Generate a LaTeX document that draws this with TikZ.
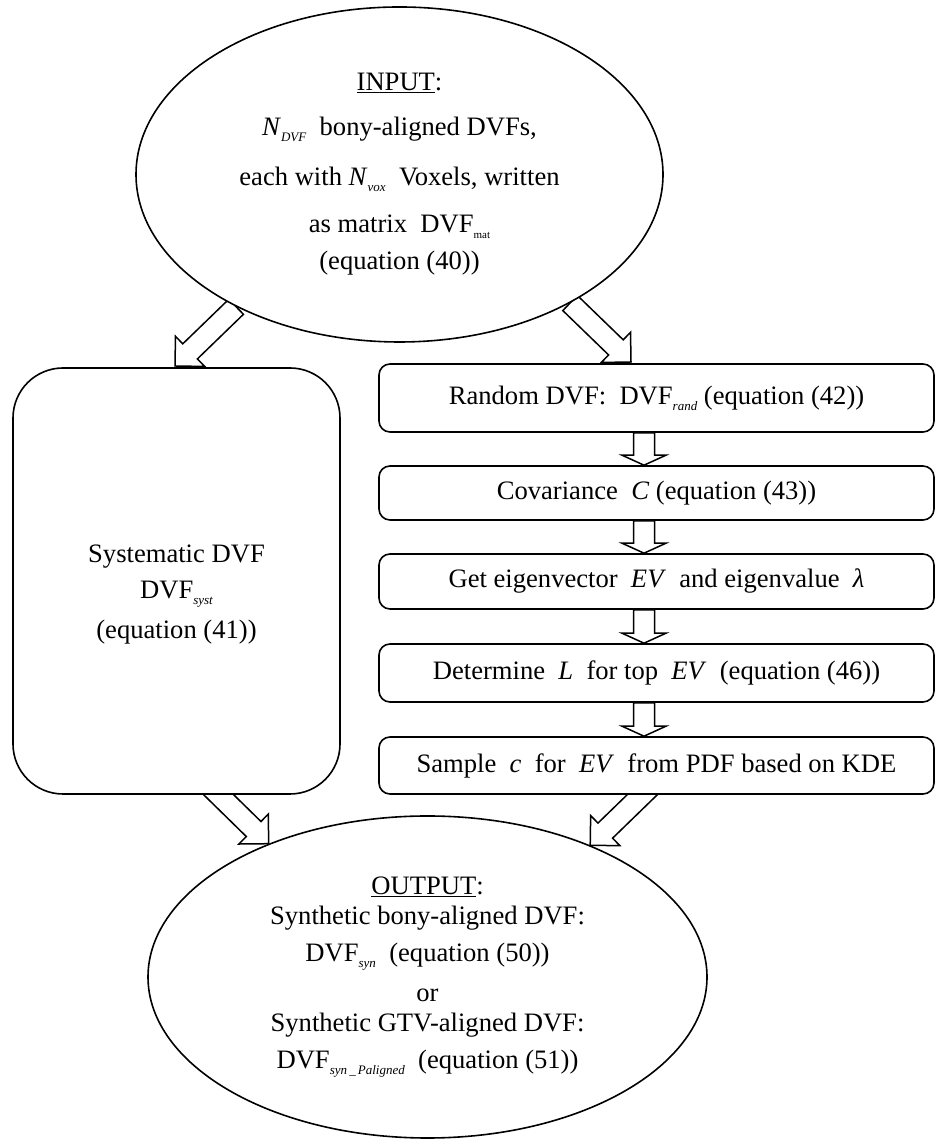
\documentclass[tikz,border=0pt]{standalone}
\usepackage{fontspec}
\setmainfont{Liberation Serif}
\usetikzlibrary{calc,backgrounds,shapes.geometric}
\newcommand{\lowit}[1]{\raisebox{-6pt}{\fontsize{13}{13}\selectfont\itshape #1}}
\newcommand{\lowrm}[1]{\raisebox{-6pt}{\fontsize{11}{11}\selectfont #1}}

\begin{document}
\begin{tikzpicture}
  [x=1pt,y=1pt,line width=1.6pt,font=\fontsize{26.6}{30}\selectfont,
   every node/.style={fill=white,inner sep=0pt,align=center},
   oval/.style={ellipse,draw},
   stepbox/.style={draw,rounded corners=11pt,minimum width=555pt},
   bigbox/.style={draw,rounded corners=50pt,minimum width=327pt,minimum height=426pt},
   blockarrow/.style={draw,fill=white,line width=1.5pt,line join=miter}]
  \useasboundingbox (0,0) rectangle (935,1142);

  \node [oval,minimum width=527pt,minimum height=335pt] (inp) at (399.5,967.5)
    {\underline{INPUT}:\\[15pt]
     \textit{N}\lowit{DVF}\ \ bony-aligned DVFs,\\[20pt]
     each with \textit{N}\lowit{vox}\ \ Voxels, written\\[17pt]
     as matrix\ \ DVF\lowrm{mat}\\[7pt]
     (equation (40))};
  \node [bigbox] (sys) at (176.5,561) {};
  \node (systxt) at (176.5,547) {Systematic DVF\\[6pt] DVF\lowit{syst}\\[10pt] (equation (41))};
  \node [stepbox,minimum height=68pt] (r1) at (656.5,744) {Random DVF:\ \ DVF\lowit{rand} (equation (42))};
  \node [stepbox,minimum height=54pt] (r2) at (656.5,649) {Covariance\ \ \textit{C} (equation (43))};
  \node [stepbox,minimum height=55pt] (r3) at (656.5,560.5) {Get eigenvector\ \ \textit{EV}\ \ and eigenvalue\ \ \textit{λ}};
  \node [stepbox,minimum height=58pt] (r4) at (656.5,469) {Determine\ \ \textit{L}\ \ for top\ \ \textit{EV}\ \ (equation (46))};
  \node [stepbox,minimum height=57pt] (r5) at (656.5,376.5) {Sample\ \ \textit{c}\ \ for\ \ \textit{EV}\ \ from PDF based on KDE};
  \node [oval,minimum width=559pt,minimum height=322pt] (outp) at (427.5,165)
    {\underline{OUTPUT}:\\
     Synthetic bony-aligned DVF:\\[7pt]
     DVF\lowit{syn}\ \ (equation (50))\\[10pt]
     or\\
     Synthetic GTV-aligned DVF:\\[7pt]
     DVF\lowit{syn\,\_\,Paligned}\ \ (equation (51))};

  \coordinate (t1) at (175,776);
  \coordinate (t2) at (631,780);
  \coordinate (b1) at ($(sys.south)+(32,10)$);
  \coordinate (b2) at ($(r5.south)+(-4,10)$);
  \coordinate (ax) at (644,0);

  \begin{pgfonlayer}{background}
    \foreach \from/\to/\hw/\hl in {inp.219/t1/21/21,inp.323/t2/21/21,b1/outp.140/21/21,b2/outp.39/21/21,
        r1.south -| ax/r2.north -| ax/22/10,r2.south -| ax/r3.north -| ax/22/10,
        r3.south -| ax/r4.north -| ax/22/10,r4.south -| ax/r5.north -| ax/22/10}
    {
      \coordinate (hb) at ($(\to)!\hl pt!(\from)$);
      \draw [blockarrow] ($(\from)!10.5pt!90:(\to)$) -- ($(hb)!10.5pt!90:(\to)$) -- ($(hb)!\hw pt!90:(\to)$)
        -- (\to) -- ($(hb)!\hw pt!-90:(\to)$) -- ($(hb)!10.5pt!-90:(\to)$) -- ($(\from)!10.5pt!-90:(\to)$) -- cycle;
    }
  \end{pgfonlayer}

\end{tikzpicture}
\end{document}
